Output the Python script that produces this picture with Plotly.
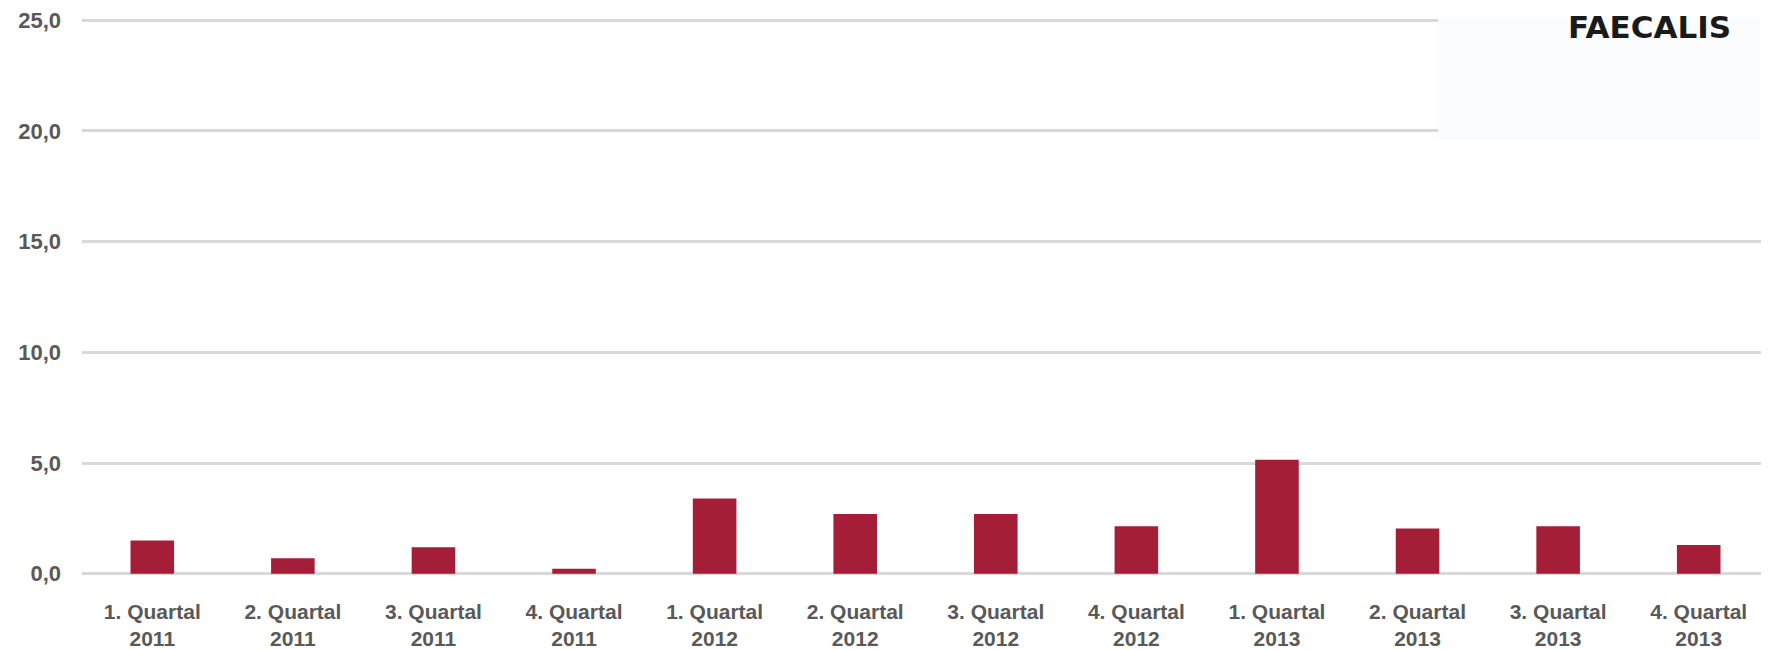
import plotly.graph_objects as go

quarters = ["1. Quartal", "2. Quartal", "3. Quartal", "4. Quartal"] * 3
years = ["2011"] * 4 + ["2012"] * 4 + ["2013"] * 4
categories = [f"{q}<br>{y}" for q, y in zip(quarters, years)]
values = [1.5, 0.7, 1.2, 0.23, 3.4, 2.7, 2.7, 2.15, 5.15, 2.05, 2.15, 1.3]
y_ticks = [0, 5, 10, 15, 20, 25]
logo_text = "FAECALIS"

# page has an 8px body margin; figure coordinates = page coordinates - 8
W, H = 1761, 642
L, R, T, B = 74, 0, 10, 70
PW, PH = W - L - R, H - T - B

def px_x(x):
    return (x - L) / PW

def px_y(y):
    return (H - B - y) / PH

fig = go.Figure()
fig.add_trace(go.Bar(
    x=categories, y=values,
    marker=dict(color="#A51E37", line=dict(width=0)),
    hoverinfo="skip",
))

fig.update_layout(
    width=W, height=H,
    margin=dict(l=L, r=R, t=T, b=B),
    plot_bgcolor="white", paper_bgcolor="white",
    separators=",.",
    bargap=0.69,
    showlegend=False,
    xaxis=dict(
        showgrid=False, showline=False, zeroline=False, ticks="",
        tickfont=dict(family="Liberation Sans, Arial, sans-serif",
                      size=21, color="#595959", weight="bold"),
        ticklabelstandoff=21,
        ticklabeloverflow="allow",
    ),
    yaxis=dict(
        range=[-0.1, 25.1], tickvals=y_ticks, tickformat=".1f",
        showgrid=True, gridcolor="#D9D9D9", gridwidth=2.5,
        zeroline=False, showline=False, ticks="",
        tickfont=dict(family="Liberation Sans, Arial, sans-serif", size=22,
                      color="#595959", weight="bold"),
        ticklabelstandoff=20,
        ticklabeloverflow="allow",
    ),
    shapes=[dict(
        type="rect", xref="paper", yref="paper", layer="above",
        x0=px_x(1430), x1=1.0,
        y0=px_y(133), y1=1.0,
        fillcolor="#FBFCFE", line=dict(width=0),
    )],
    annotations=[dict(
        text=logo_text, xref="paper", yref="paper",
        x=px_x(1641), y=px_y(19),
        xanchor="center", yanchor="middle", showarrow=False,
        font=dict(family="DejaVu Sans, Verdana, sans-serif", size=31,
                  color="#1A1A1A", weight="bold"),
    )],
)

fig.write_html("out.html")
